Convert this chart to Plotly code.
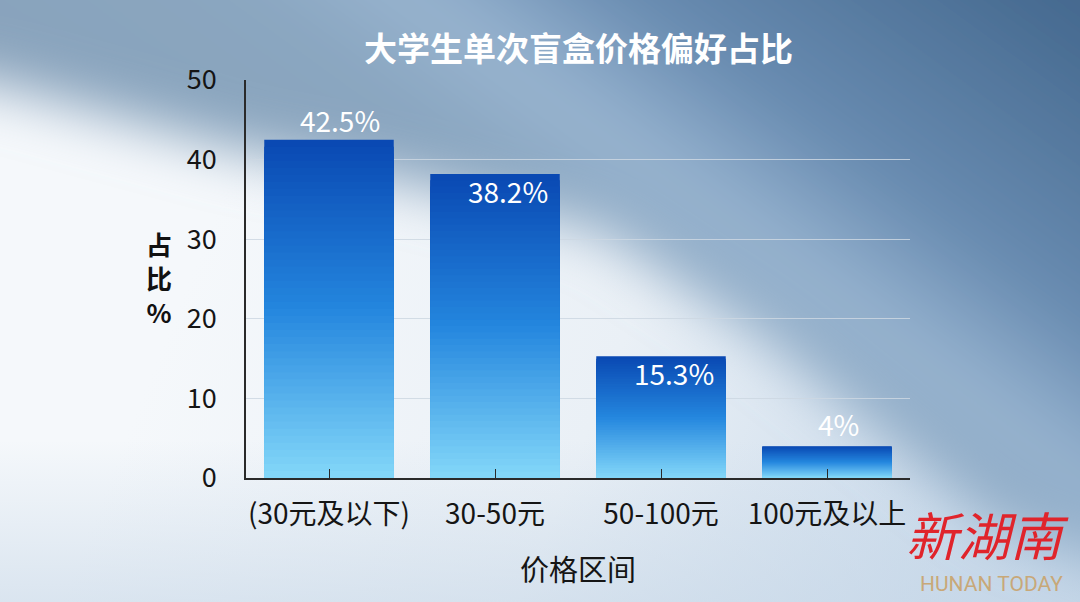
import base64
import plotly.graph_objects as go

# ---- data ----
categories = ["(30元及以下)", "30-50元", "50-100元", "100元及以上"]
shares = [42.5, 38.2, 15.3, 4]
labels = ["42.5%", "38.2%", "15.3%", "4%"]
y_ticks = [0, 10, 20, 30, 40, 50]

title_text = "大学生单次盲盒价格偏好占比"
x_title = "价格区间"
y_title = "占<br>比<br>%"

# ---- style ----
FONT = "Noto Sans CJK SC, Noto Sans, sans-serif"
W, H = 1080, 602
ML, MR, MT, MB = 246, 170, 80, 124
PW, PH = W - ML - MR, H - MT - MB

TOP = (9, 72, 178)
MID = (36, 134, 222)
BOT = (132, 216, 249)


def grad(f):
    # f=1 top (dark), f=0 bottom (light)
    if f >= 0.5:
        t = (f - 0.5) / 0.5
        a, b = MID, TOP
    else:
        t = f / 0.5
        a, b = BOT, MID
    return "rgb(%d,%d,%d)" % tuple(round(a[i] + (b[i] - a[i]) * t) for i in range(3))


svg = """<svg xmlns="http://www.w3.org/2000/svg" width="1080" height="602" viewBox="0 0 1080 602" preserveAspectRatio="none">
<defs>
<linearGradient id="base" gradientUnits="userSpaceOnUse" x1="200" y1="250" x2="1080" y2="602">
<stop offset="0" stop-color="#f5f8fb"/>
<stop offset="0.45" stop-color="#eaf0f6"/>
<stop offset="1" stop-color="#bfd3e7"/>
</linearGradient>
<linearGradient id="bot" gradientUnits="userSpaceOnUse" x1="0" y1="440" x2="0" y2="602">
<stop offset="0" stop-color="#c8d8e8" stop-opacity="0"/>
<stop offset="1" stop-color="#c8d8e8" stop-opacity="0.6"/>
</linearGradient>
<linearGradient id="dark" gradientUnits="userSpaceOnUse" x1="1000" y1="-50" x2="600" y2="500">
<stop offset="0" stop-color="#45698f"/>
<stop offset="0.38" stop-color="#6a8db2"/>
<stop offset="0.55" stop-color="#98b4d0"/>
<stop offset="0.7" stop-color="#8aa6c0"/>
<stop offset="1" stop-color="#89a3bc"/>
</linearGradient>
<filter id="blur" x="-20%" y="-20%" width="140%" height="140%">
<feGaussianBlur stdDeviation="28"/>
</filter>
</defs>
<rect width="1080" height="602" fill="url(#base)"/>
<rect width="1080" height="602" fill="url(#bot)"/>
<polygon filter="url(#blur)" fill="url(#dark)" points="-80,-80 1160,-80 1160,580 1000,525 910,455 760,335 600,230 400,180 240,150 0,85 -80,70"/>
</svg>"""
bg_uri = "data:image/svg+xml;base64," + base64.b64encode(svg.encode()).decode()

fig = go.Figure()

N = 48
for k in range(N):
    f = (N - k) / N
    fig.add_trace(go.Bar(
        x=categories,
        y=[v * f for v in shares],
        width=0.78,
        marker=dict(color=grad(f - 0.5 / N), line=dict(width=0)),
        hoverinfo="skip",
        showlegend=False,
    ))

# value labels
placements = [("bottom", -2, 11), ("top", 5, 13), ("top", 5, 13), ("bottom", 0, 11)]
for cat, val, lab, (anc, ys, xs) in zip(categories, shares, labels, placements):
    fig.add_annotation(
        x=cat, y=val, text=lab, showarrow=False,
        yanchor=anc, xanchor="center", yshift=ys, xshift=xs,
        font=dict(family=FONT, size=28, color="white"),
    )

fig.add_annotation(
    xref="paper", yref="paper", x=0.5, y=1 + 33 / PH, text="<b>" + title_text + "</b>",
    showarrow=False, xanchor="center", yanchor="middle",
    font=dict(family=FONT, size=33, color="white"),
)
fig.add_annotation(
    xref="paper", yref="paper", x=0.5, y=-(568 - 478) / PH, text=x_title,
    showarrow=False, xanchor="center", yanchor="middle",
    font=dict(family=FONT, size=29, color="#151515"),
)
fig.add_annotation(
    xref="paper", yref="paper", x=-(246 - 159) / PW, y=(478 - 277) / PH, text="<b>" + y_title + "</b>",
    showarrow=False, xanchor="center", yanchor="middle",
    font=dict(family=FONT, size=26, color="#111111"),
)
# logo
fig.add_annotation(
    xref="paper", yref="paper", x=(988 - ML) / PW, y=-(533 - 478) / PH, text="<i>新湖南</i>",
    showarrow=False, xanchor="center", yanchor="middle",
    font=dict(family=FONT, size=52, color="#e0242b"),
)
fig.add_annotation(
    xref="paper", yref="paper", x=(991 - ML) / PW, y=-(584 - 478) / PH, text="HUNAN TODAY",
    showarrow=False, xanchor="center", yanchor="middle",
    font=dict(family="Roboto, Noto Sans, sans-serif", size=21, color="#c8a878"),
)

fig.update_layout(
    width=W, height=H,
    margin=dict(l=ML, r=MR, t=MT, b=MB),
    barmode="overlay",
    paper_bgcolor="#dfe8f1",
    plot_bgcolor="rgba(0,0,0,0)",
    showlegend=False,
    images=[dict(
        source=bg_uri, xref="paper", yref="paper",
        x=-ML / PW, y=1 + MT / PH, sizex=W / PW, sizey=H / PH,
        xanchor="left", yanchor="top", sizing="stretch", layer="below",
    )],
    xaxis=dict(
        type="category",
        range=[-0.5, 3.5],
        showline=True, linecolor="#2a2a2a", linewidth=2,
        ticks="inside", ticklen=9, tickwidth=1, tickcolor="#2a2a2a",
        tickfont=dict(family=FONT, size=28, color="#151515"),
        ticklabelstandoff=10,
        showgrid=False, zeroline=False,
    ),
    yaxis=dict(
        range=[0, 50],
        tickvals=y_ticks,
        showline=True, linecolor="#2a2a2a", linewidth=1.5,
        ticks="",
        tickfont=dict(family=FONT, size=27, color="#151515"),
        ticklabelstandoff=22,
        showgrid=True, gridcolor="rgba(205,215,226,0.85)", gridwidth=1,
        zeroline=False,
    ),
)

fig.write_html(
    "out.html",
    config={"displayModeBar": False},
    post_script="document.body.style.margin='0';document.body.style.overflow='hidden';",
)
